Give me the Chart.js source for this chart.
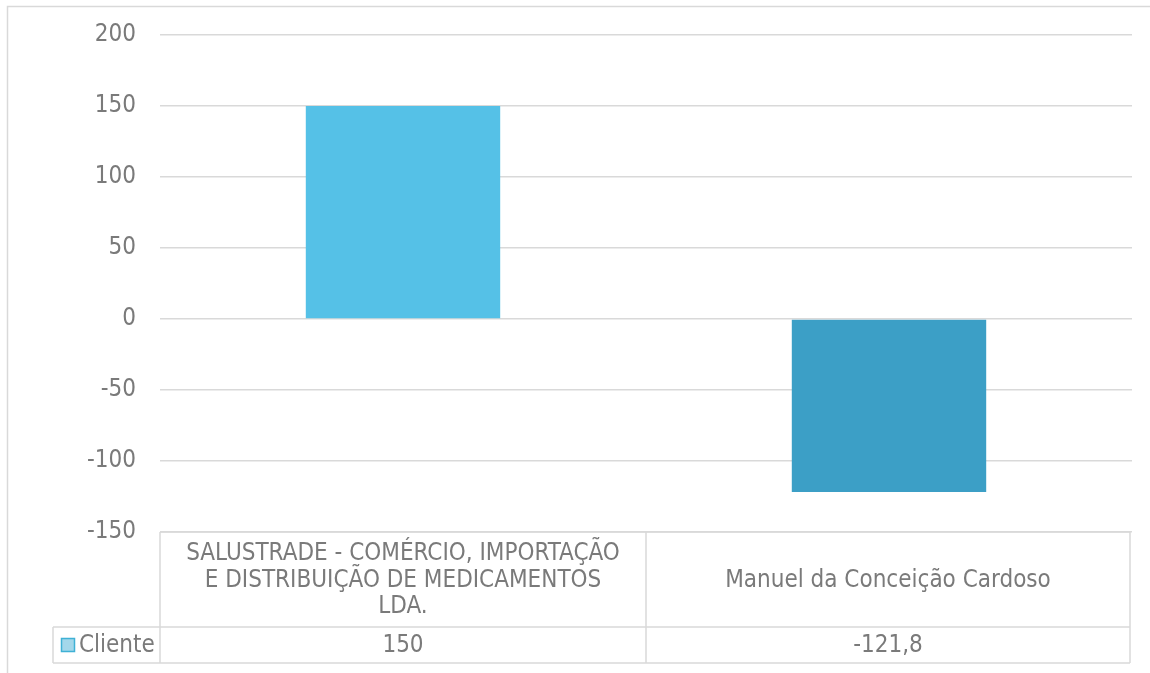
<!DOCTYPE html>
<html>
<head>
<meta charset="utf-8">
<script src="https://cdn.jsdelivr.net/npm/chart.js@4.4.1/dist/chart.umd.min.js"></script>
<style>
  html, body { margin: 0; padding: 0; background: #ffffff; }
  #wrap { position: relative; width: 1150px; height: 673px; }
</style>
</head>
<body>
<div id="wrap"><canvas id="c" width="1150" height="673"></canvas></div>
<script>
// ---- data ----
const categories = [
  ["SALUSTRADE - COMÉRCIO, IMPORTAÇÃO", "E DISTRIBUIÇÃO DE MEDICAMENTOS", "LDA."],
  "Manuel da Conceição Cardoso"
];
const seriesName = "Cliente";
const clienteValues = [150, -121.8];
const yTickMin = -150;
const yTickMax = 200;
const yTickStep = 50;

// ---- styles ----
const barColors = ["#55C1E7", "#3C9FC6"];
const FONT = "'DejaVu Sans Condensed', 'DejaVu Sans', sans-serif";
const FONT_SIZE = 24;
const TEXT_COLOR = "#7a7a7a";
const LINE_COLOR = "#d9d9d9";
const PLOT_TOP = 35;
const PLOT_BOTTOM = 532;

function fmt(v) { return String(v).replace('.', ','); }

const tablePlugin = {
  id: 'dataTable',
  afterDraw(chart) {
    const ctx = chart.ctx;
    const area = chart.chartArea;
    const xs = chart.scales.x;
    ctx.save();
    // outer chart border (cropped at right/bottom)
    ctx.strokeStyle = LINE_COLOR;
    ctx.lineWidth = 1.5;
    ctx.strokeRect(7.5, 6.5, 1200, 800);

    const top = area.bottom;
    const headerBottom = top + 95;
    const rowBottom = headerBottom + 36;
    const left = area.left;
    const right = area.right - 2;
    const n = categories.length;
    const bounds = [left];
    for (let i = 0; i < n - 1; i++) {
      bounds.push((xs.getPixelForValue(i) + xs.getPixelForValue(i + 1)) / 2);
    }
    bounds.push(right);
    const legendLeft = 53;

    ctx.lineWidth = 1.5;
    ctx.strokeStyle = LINE_COLOR;
    ctx.beginPath();
    ctx.moveTo(left, top); ctx.lineTo(right, top);
    ctx.moveTo(legendLeft, headerBottom); ctx.lineTo(right, headerBottom);
    ctx.moveTo(legendLeft, rowBottom); ctx.lineTo(right, rowBottom);
    ctx.moveTo(legendLeft, headerBottom); ctx.lineTo(legendLeft, rowBottom);
    bounds.forEach(b => { ctx.moveTo(b, top); ctx.lineTo(b, rowBottom); });
    ctx.stroke();

    ctx.fillStyle = TEXT_COLOR;
    ctx.font = FONT_SIZE + "px " + FONT;
    ctx.textAlign = "center";
    ctx.textBaseline = "middle";
    const lineH = 26.5;
    categories.forEach((cat, i) => {
      const lines = Array.isArray(cat) ? cat : [cat];
      const cx = (bounds[i] + bounds[i + 1]) / 2;
      const cy = (top + headerBottom) / 2 + 1;
      const startY = cy - (lines.length - 1) * lineH / 2;
      lines.forEach((ln, j) => ctx.fillText(ln, cx, startY + j * lineH));
      ctx.fillText(fmt(clienteValues[i]), cx, (headerBottom + rowBottom) / 2 + 1);
    });

    // legend key
    const ky = (headerBottom + rowBottom) / 2;
    ctx.fillStyle = "#a3d7ea";
    ctx.fillRect(61, ky - 7, 14, 14);
    ctx.strokeStyle = "#3fb1d5";
    ctx.lineWidth = 1.5;
    ctx.strokeRect(61.5, ky - 6.5, 13, 13);
    ctx.fillStyle = TEXT_COLOR;
    ctx.textAlign = "left";
    ctx.fillText(seriesName, 79, ky + 1);
    ctx.restore();
  }
};

new Chart(document.getElementById('c'), {
  type: 'bar',
  data: {
    labels: categories,
    datasets: [{
      label: seriesName,
      data: clienteValues,
      backgroundColor: barColors,
      borderWidth: 0,
      barPercentage: 0.4,
      categoryPercentage: 1.0
    }]
  },
  options: {
    responsive: false,
    animation: false,
    devicePixelRatio: 1,
    layout: { padding: { top: PLOT_TOP, right: 18, bottom: 673 - PLOT_BOTTOM, left: 0 } },
    plugins: { legend: { display: false }, tooltip: { enabled: false } },
    scales: {
      x: { display: false },
      y: {
        min: yTickMin,
        max: yTickMax,
        afterFit(scale) { scale.width = 160; scale.paddingTop = 0; scale.paddingBottom = 0; },
        border: { display: false },
        grid: { color: LINE_COLOR, lineWidth: 1.5, drawTicks: false },
        ticks: {
          stepSize: yTickStep,
          padding: 24,
          color: TEXT_COLOR,
          font: { family: FONT, size: FONT_SIZE }
        }
      }
    }
  },
  plugins: [tablePlugin]
});
</script>
</body>
</html>
